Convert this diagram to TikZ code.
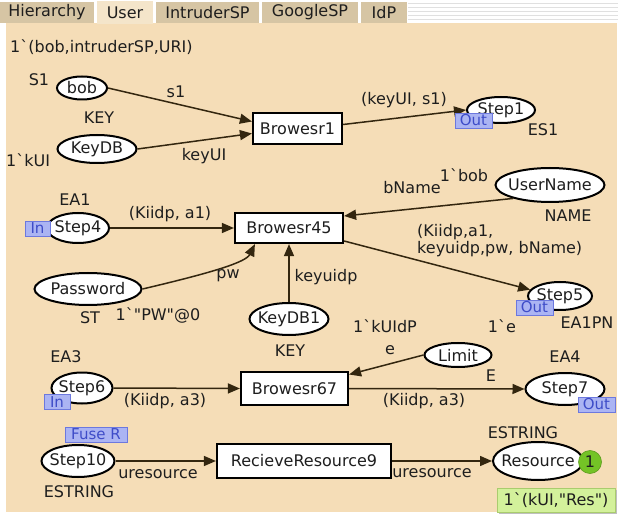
\documentclass[tikz,border=0pt]{standalone}
\usepackage{fontspec}
\setmainfont{DejaVu Sans}[Ligatures=TeXOff]
\usetikzlibrary{arrows.meta,shapes.geometric}
\definecolor{canvas}{HTML}{F5DDB7}
\definecolor{tabbg}{HTML}{D6C5A4}
\definecolor{tabactive}{HTML}{F4E5CA}
\definecolor{arcclr}{HTML}{33260F}
\definecolor{labelclr}{HTML}{1E1E1E}
\definecolor{tagfill}{HTML}{ABB4F3}
\definecolor{tagline}{HTML}{6C78DE}
\definecolor{tagtext}{HTML}{3E4CC8}
\definecolor{tokenfill}{HTML}{74C326}
\definecolor{markfill}{HTML}{D3F19B}
\definecolor{markline}{HTML}{A9CC6E}
\newcommand{\dq}{\symbol{34}}
\begin{document}
\begin{tikzpicture}[x=1pt,y=-1pt,
  font=\fontsize{16}{18}\selectfont,
  place/.style={ellipse, draw=black, line width=2pt, fill=white,
    inner xsep=-6pt, inner ysep=-2pt, text=labelclr},
  trans/.style={rectangle, draw=black, line width=2.2pt, fill=white,
    inner sep=0pt, text=labelclr},
  arc/.style={draw=arcclr, line width=1.5pt,
    -{Triangle[length=12pt,width=10pt]}},
  lbl/.style={inner sep=0pt, text=labelclr},
  tag/.style={rectangle, fill=tagfill, draw=tagline, line width=0.8pt,
    text=tagtext, inner sep=0pt, minimum height=15pt,
    font=\fontsize{15}{16}\selectfont},
  tab/.style={rectangle, fill=tabbg, draw=none, inner sep=0pt, text=labelclr}]
\useasboundingbox (0,0) rectangle (618,518);
\fill[white] (0,0) rectangle (618,518);

% tab bar
\foreach \yy in {3,7,11,15,19}
  \draw[black!12, line width=0.8pt] (408,\yy) -- (618,\yy);
\node[tab, minimum width=94pt, minimum height=21pt] (tabH) at (47,12.5) {Hierarchy};
\node[tab, fill=tabactive, minimum width=56pt, minimum height=23pt] (tabU) at (125,13) {User};
\node[tab, minimum width=103pt, minimum height=21pt] (tabI) at (207.5,12.5) {IntruderSP};
\node[tab, minimum width=96pt, minimum height=21pt] (tabG) at (310,12.5) {GoogleSP};
\node[tab, minimum width=46pt, minimum height=21pt] (tabD) at (384,12.5) {IdP};

% page canvas
\fill[canvas] (6,23) rectangle (617,512);
\fill[tabactive] (97,22) rectangle (153,24.5);

% places and transitions
\node[place, minimum width=50pt, minimum height=23pt] (bob) at (82,88) {bob};
\node[place, minimum width=79pt, minimum height=28pt] (keydb) at (97,149) {KeyDB};
\node[trans, minimum width=89pt, minimum height=31pt] (b1) at (297.5,128.5) {Browesr1};
\node[place, minimum width=68pt, minimum height=26pt] (step1) at (501,110) {Step1};
\node[place, minimum width=109pt, minimum height=34pt] (username) at (550,185) {UserName};
\node[trans, minimum width=108pt, minimum height=30pt] (b45) at (289,228) {Browesr45};
\node[place, minimum width=62pt, minimum height=30pt] (step4) at (78,228) {Step4};
\node[place, minimum width=107pt, minimum height=32pt] (password) at (88,289) {Password};
\node[place, minimum width=79pt, minimum height=32pt] (keydb1) at (289,319) {KeyDB1};
\node[place, minimum width=64pt, minimum height=28pt] (step5) at (560,296) {Step5};
\node[place, minimum width=67pt, minimum height=24pt] (limit) at (458,355) {Limit};
\node[trans, minimum width=107pt, minimum height=33pt] (b67) at (294.5,388.5) {Browesr67};
\node[place, minimum width=61pt, minimum height=31pt] (step6) at (82,388) {Step6};
\node[place, minimum width=79pt, minimum height=32pt] (step7) at (565,389) {Step7};
\node[place, minimum width=73pt, minimum height=32pt] (step10) at (78,461) {Step10};
\node[trans, minimum width=174pt, minimum height=34pt] (rr9) at (304,461) {RecieveResource9};
\node[place, minimum width=90pt, minimum height=38pt] (resource) at (538,461) {Resource};

% arcs
\draw[arc] (bob.east) -- ([yshift=7pt]b1.west);
\draw[arc] (keydb.east) -- ([yshift=-5pt]b1.west);
\draw[arc] ([yshift=4pt]b1.east) -- (step1.west);
\draw[arc] (username.200) -- ([yshift=12pt]b45.east);
\draw[arc] (step4.east) -- (b45.west);
\draw[arc] (password.east) .. controls (215,272) and (246,262) .. ([xshift=21pt]b45.south west);
\draw[arc] (keydb1.north) -- (keydb1.north |- b45.south);
\draw[arc] ([yshift=-13pt]b45.east) -- (step5.168);
\draw[arc] (limit.west) -- ([yshift=14pt]b67.east);
\draw[arc] (step6.east) -- (b67.west);
\draw[arc] (b67.east) -- (step7.west);
\draw[arc] (step10.east) -- (rr9.west);
\draw[arc] (rr9.east) -- (resource.west);

% inscriptions
\node[lbl, anchor=west] (init1) at (10,47) {1\textasciigrave(bob,intruderSP,URI)};
\node[lbl] (tS1) at (39,80) {S1};
\node[lbl] (tKey1) at (99,118) {KEY};
\node[lbl] (es1) at (176,92) {s1};
\node[lbl, anchor=west] (initkui) at (6,160) {1\textasciigrave kUI};
\node[lbl] (ekeyui) at (204,156) {keyUI};
\node[lbl] (eout1) at (404,100) {(keyUI, s1)};
\node[lbl] (tES1) at (543,130) {ES1};
\node[lbl] (initbob) at (464,175) {1\textasciigrave bob};
\node[lbl] (ebname) at (412,188) {bName};
\node[lbl] (tName) at (568,216) {NAME};
\node[lbl] (tEA1) at (75,200) {EA1};
\node[lbl] (ea1) at (170,214) {(Kiidp, a1)};
\node[lbl] (epw) at (228,276) {pw};
\node[lbl] (ekeyuidp) at (326,277) {keyuidp};
\node[lbl] (tST) at (90,318) {ST};
\node[lbl] (initpw) at (158,315) {1\textasciigrave\dq PW\dq @0};
\node[lbl, anchor=west, align=left, font=\fontsize{16}{17}\selectfont] (eout45) at (417,240.5)
  {(Kiidp,a1,\\keyuidp,pw, bName)};
\node[lbl] (tKey2) at (290,351) {KEY};
\node[lbl] (initkuidp) at (385,326) {1\textasciigrave kUIdP};
\node[lbl] (tEA1PN) at (587,323) {EA1PN};
\node[lbl] (inite) at (502,326) {1\textasciigrave e};
\node[lbl] (ee) at (390,350) {e};
\node[lbl] (tEA3) at (66,357) {EA3};
\node[lbl] (tE) at (491,376) {E};
\node[lbl] (tEA4) at (565,357) {EA4};
\node[lbl] (ea3in) at (165,401) {(Kiidp, a3)};
\node[lbl] (ea3out) at (424,401) {(Kiidp, a3)};
\node[lbl] (tEstr2) at (523,433) {ESTRING};
\node[lbl] (eures1) at (158,474) {uresource};
\node[lbl] (eures2) at (432,473) {uresource};
\node[lbl] (tEstr1) at (79,492) {ESTRING};

% port and fusion tags
\node[tag, minimum width=37pt] (out1) at (473.5,120.5) {Out};
\node[tag, minimum width=25pt] (in4) at (37.5,228.5) {In};
\node[tag, minimum width=37pt] (out5) at (534.5,307.5) {Out};
\node[tag, minimum width=26pt] (in6) at (57,402) {In};
\node[tag, minimum width=37pt] (out7) at (596.5,404.5) {Out};
\node[tag, minimum width=62pt] (fuse) at (96,434.5) {Fuse R};

% current marking
\node[circle, fill=tokenfill, draw=tokenfill!80!black, line width=0.6pt,
  minimum size=23pt, inner sep=0pt, text=labelclr] (token) at (590,462) {1};
\fill[black!25] (499,490) rectangle (617,514);
\node[rectangle, fill=markfill, draw=markline, line width=0.6pt, inner sep=0pt,
  minimum width=118pt, minimum height=24pt, text=labelclr] (mark) at (556,500)
  {1\textasciigrave(kUI,\dq Res\dq)};
\end{tikzpicture}
\end{document}
